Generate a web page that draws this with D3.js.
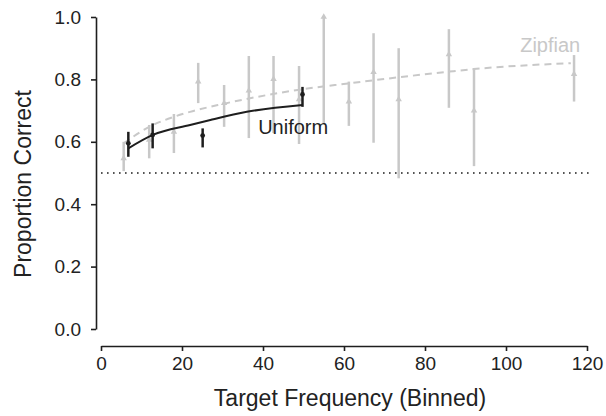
<!DOCTYPE html>
<html>
  <head>
    <meta charset="utf-8">
    <title>proportion correct by target frequency</title>
    <style>
      body { margin: 0; background: #fff; }
      text { font-family: "Liberation Sans", Arial, sans-serif; }
    </style>
  </head>
  <body>
    <script src="https://cdn.jsdelivr.net/npm/d3@7"></script>
    <script type="text/javascript">
      // Zipfian condition (grey): bin centre, mean, error bar ends
      var zipfX  = [5.6, 11.9, 18, 24, 30.4, 36.5, 42.6, 48.9, 55, 61.2, 67.3, 73.5, 85.9, 92.1, 116.8];
      var zipfY  = [0.547, 0.606, 0.632, 0.793, 0.724, 0.764, 0.801, 0.736, 1.0, 0.729, 0.823, 0.736, 0.880, 0.700, 0.817];
      var zipfLo = [0.506, 0.547, 0.564, 0.724, 0.648, 0.612, 0.628, 0.593, 0.660, 0.651, 0.597, 0.483, 0.709, 0.522, 0.729];
      var zipfHi = [0.600, 0.654, 0.689, 0.853, 0.782, 0.875, 0.875, 0.843, 1.0, 0.793, 0.948, 0.900, 0.961, 0.836, 0.878];

      // Uniform condition (black)
      var uniX  = [6.75, 12.75, 25.1, 49.75];
      var uniY  = [0.595, 0.622, 0.620, 0.752];
      var uniLo = [0.552, 0.579, 0.582, 0.712];
      var uniHi = [0.632, 0.659, 0.643, 0.776];

      // fitted curves
      var zipfFitX = [5.6, 11.9, 18, 22, 30, 49, 61, 86, 92, 116];
      var zipfFitY = [0.595, 0.648, 0.680, 0.696, 0.721, 0.767, 0.787, 0.825, 0.833, 0.852];
      var uniFitX = [6.75, 12.8, 22, 27, 36, 49.75];
      var uniFitY = [0.579, 0.622, 0.654, 0.670, 0.696, 0.718];

      var chance = 0.5;
      var xTicks = [0, 20, 40, 60, 80, 100, 120];
      var yTicks = [0, 0.2, 0.4, 0.6, 0.8, 1.0];

      var width = 606;
      var height = 416;
      var grey = "#c8c8c8";
      var dark = "#1e1e1e";

      var svg = d3.select("body")
                  .append("svg")
                  .attr("width", width)
                  .attr("height", height);

      var x = d3.scaleLinear().domain([0, 120]).range([101, 587]);
      var y = d3.scaleLinear().domain([0, 1]).range([329, 17]);

      // axes, offset from the plot like the original
      var xAxis = svg.append("g")
                     .attr("transform", "translate(0,346)")
                     .call(d3.axisBottom(x).tickValues(xTicks).tickSize(5).tickSizeOuter(0).tickPadding(6));
      var yAxis = svg.append("g")
                     .attr("transform", "translate(96,0)")
                     .call(d3.axisLeft(y).tickValues(yTicks).tickFormat(d3.format(".1f")).tickSize(5).tickSizeOuter(0).tickPadding(10));

      [xAxis, yAxis].forEach(function(a) {
        a.select(".domain").attr("stroke", dark).attr("stroke-width", 1.6);
        a.selectAll(".tick line").attr("stroke", dark).attr("stroke-width", 1.6);
        a.selectAll(".tick text")
         .attr("fill", "#222")
         .style("font-size", "19px")
         .style("font-family", "'Liberation Sans', Arial, sans-serif");
      });

      svg.append("text")
         .attr("x", 350)
         .attr("y", 406)
         .attr("text-anchor", "middle")
         .attr("fill", "#222")
         .style("font-size", "23px")
         .text("Target Frequency (Binned)");

      svg.append("text")
         .attr("transform", "translate(31,184) rotate(-90)")
         .attr("text-anchor", "middle")
         .attr("fill", "#222")
         .style("font-size", "23px")
         .text("Proportion Correct");

      // chance line
      svg.append("line")
         .attr("x1", x(0)).attr("x2", x(121))
         .attr("y1", y(chance)).attr("y2", y(chance))
         .attr("stroke", dark)
         .attr("stroke-width", 1.6)
         .attr("stroke-dasharray", "1.6,4.4");

      var line = d3.line()
                   .x(function(d) { return x(d[0]); })
                   .y(function(d) { return y(d[1]); })
                   .curve(d3.curveMonotoneX);

      // zipfian error bars + triangles
      var zipf = d3.range(zipfX.length);
      svg.selectAll(".zbar")
         .data(zipf)
         .enter().append("line")
         .attr("x1", function(i) { return x(zipfX[i]); })
         .attr("x2", function(i) { return x(zipfX[i]); })
         .attr("y1", function(i) { return y(zipfLo[i]); })
         .attr("y2", function(i) { return y(zipfHi[i]); })
         .attr("stroke", grey)
         .attr("stroke-width", 2.5);

      svg.selectAll(".zpt")
         .data(zipf)
         .enter().append("path")
         .attr("d", d3.symbol().type(d3.symbolTriangle).size(18))
         .attr("transform", function(i) { return "translate(" + x(zipfX[i]) + "," + y(zipfY[i]) + ")"; })
         .attr("fill", grey);

      svg.append("path")
         .attr("d", line(d3.zip(zipfFitX, zipfFitY)))
         .attr("fill", "none")
         .attr("stroke", grey)
         .attr("stroke-width", 2)
         .attr("stroke-dasharray", "7,5");

      // uniform error bars + dots
      var uni = d3.range(uniX.length);
      svg.append("path")
         .attr("d", line(d3.zip(uniFitX, uniFitY)))
         .attr("fill", "none")
         .attr("stroke", dark)
         .attr("stroke-width", 2);

      svg.selectAll(".ubar")
         .data(uni)
         .enter().append("line")
         .attr("x1", function(i) { return x(uniX[i]); })
         .attr("x2", function(i) { return x(uniX[i]); })
         .attr("y1", function(i) { return y(uniLo[i]); })
         .attr("y2", function(i) { return y(uniHi[i]); })
         .attr("stroke", dark)
         .attr("stroke-width", 2.5);

      svg.selectAll(".upt")
         .data(uni)
         .enter().append("circle")
         .attr("cx", function(i) { return x(uniX[i]); })
         .attr("cy", function(i) { return y(uniY[i]); })
         .attr("r", 2.4)
         .attr("fill", dark);

      svg.append("text")
         .attr("x", x(38.8))
         .attr("y", y(0.625))
         .attr("fill", "#222")
         .style("font-size", "20px")
         .text("Uniform");

      svg.append("text")
         .attr("x", x(103.5))
         .attr("y", y(0.888))
         .attr("fill", grey)
         .style("font-size", "20px")
         .text("Zipfian");
    </script>
  </body>
</html>
